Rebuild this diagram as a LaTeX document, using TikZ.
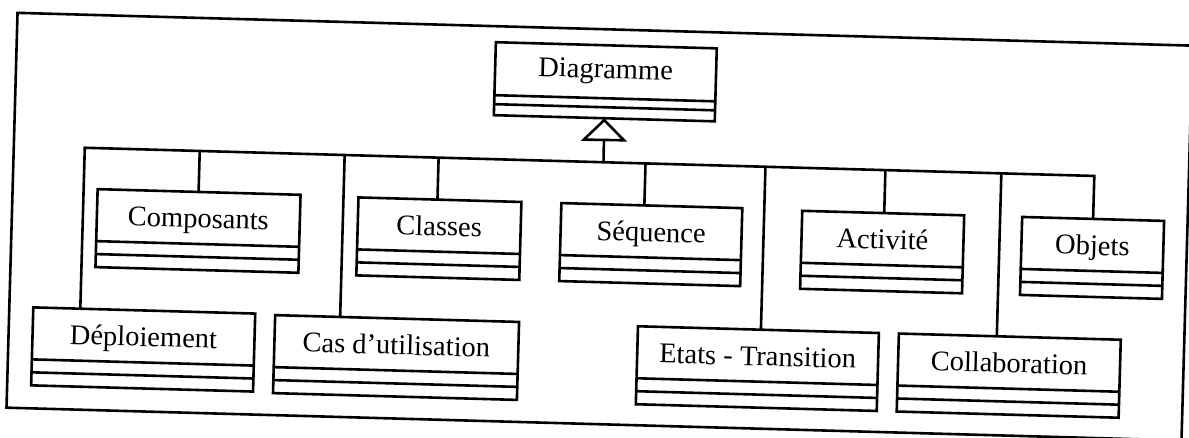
\documentclass[tikz,border=0pt]{standalone}
\usepackage{fontspec}
\setmainfont{Liberation Serif}
\usetikzlibrary{arrows.meta,calc}
\tikzset{
  cls/.style={draw, line width=2.6pt, inner xsep=0pt, inner ysep=0pt, outer sep=0pt,
    text height=36pt, text depth=42pt, anchor=north west, font=\fontsize{28.5}{30}\selectfont},
  wire/.style={line width=2.6pt},
  gen/.style={line width=2.6pt, -{Triangle[open,length=23pt,width=46pt,line width=2.6pt]}},
}
\newcommand\comparts[3]{%
  \draw[wire] ($(#1.north west)!#2!(#1.south west)$) -- ($(#1.north east)!#2!(#1.south east)$);
  \draw[wire] ($(#1.north west)!#3!(#1.south west)$) -- ($(#1.north east)!#3!(#1.south east)$);
}
\newcommand\dropto[2]{%
  \coordinate (j#2) at (#1,162);
  \draw[wire] (j#2) -- ($(#2.north west)!(j#2)!(#2.north east)$);
}
\begin{document}
\begin{tikzpicture}[x=1pt,y=-1pt]
\useasboundingbox (0,0) rectangle (1189,437);
\fill[white] (0,0) rectangle (1189,437);
\clip (0,0) rectangle (1189,437);
\begin{scope}[rotate around={-1.6:(594,218)}, transform shape]
  \draw[wire] (12,29) rectangle (1187.5,424);
  % classes
  \node[cls, minimum width=221pt, text height=33pt, text depth=40pt] (diag) at (491,45) {Diagramme};
  \comparts{diag}{0.726}{0.849}
  \node[cls, minimum width=203pt] (comp) at (97,203) {Composants};
  \node[cls, minimum width=222pt] (dep) at (36,323) {Déploiement};
  \node[cls, minimum width=244pt] (cas) at (278,324) {Cas d’utilisation};
  \node[cls, minimum width=163pt] (cls) at (358,204) {Classes};
  \node[cls, minimum width=181pt] (seq) at (561,204) {Séquence};
  \node[cls, minimum width=241pt] (etat) at (641,325) {Etats - Transition};
  \node[cls, minimum width=162pt] (act) at (802,205) {Activité};
  \node[cls, minimum width=142pt] (obj) at (1022,205) {Objets};
  \node[cls, minimum width=222pt] (coll) at (902,325) {Collaboration};
  \foreach \n in {comp,dep,cas,cls,seq,etat,act,obj,coll}{\comparts{\n}{0.667}{0.833}}
  % generalization
  \coordinate (jL) at (83,162);
  \coordinate (jR) at (1093,162);
  \coordinate (jD) at (602,162);
  \draw[wire] ($(dep.north west)!(jL)!(dep.north east)$) -- (jL) -- (jR)
    -- ($(obj.north west)!(jR)!(obj.north east)$);
  \draw[gen] (jD) -- (diag.south);
  \dropto{198}{comp}
  \dropto{343}{cas}
  \dropto{437}{cls}
  \dropto{644}{seq}
  \dropto{764}{etat}
  \dropto{884}{act}
  \dropto{1000}{coll}
\end{scope}
\end{tikzpicture}
\end{document}
